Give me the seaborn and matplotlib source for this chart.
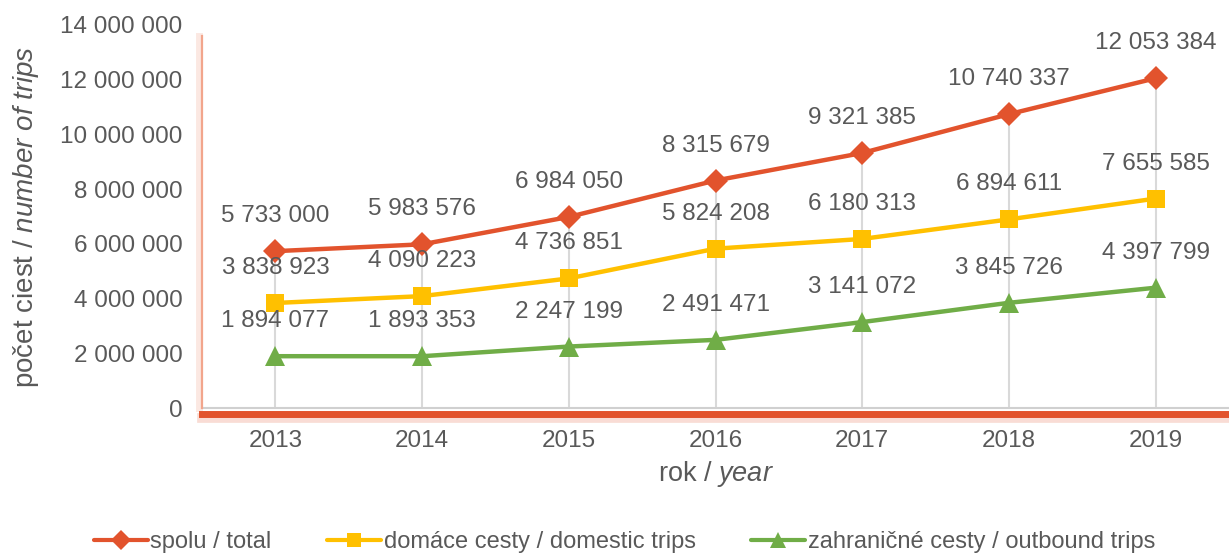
"""
plot.py

Number of trips per year: total, domestic and outbound.
"""

import pandas as pd
import seaborn as sns
import matplotlib.pyplot as plt
import matplotlib.patheffects as pe

years = ["2013", "2014", "2015", "2016", "2017", "2018", "2019"]
total = [5733000, 5983576, 6984050, 8315679, 9321385, 10740337, 12053384]
domestic = [3838923, 4090223, 4736851, 5824208, 6180313, 6894611, 7655585]
outbound = [1894077, 1893353, 2247199, 2491471, 3141072, 3845726, 4397799]

series_names = ["spolu / total", "domáce cesty / domestic trips", "zahraničné cesty / outbound trips"]

df = pd.DataFrame({"rok": years, series_names[0]: total,
                   series_names[1]: domestic, series_names[2]: outbound})
long = df.melt(id_vars="rok", var_name="serie", value_name="cesty")

sns.set_style("white")
plt.rcParams["font.family"] = ["Liberation Sans", "DejaVu Sans"]
plt.rcParams["mathtext.fontset"] = "custom"
plt.rcParams["mathtext.it"] = "Liberation Sans:italic"
plt.rcParams["mathtext.rm"] = "Liberation Sans"

TXT = "#595959"
colors = ["#E2532D", "#FFC000", "#70AD47"]
markers = ["D", "s", "^"]
msizes = [12.5, 13, 15]

fig = plt.figure(figsize=(12.29, 5.54), dpi=100)
ax = fig.add_axes([0.1644, 0.2635, 0.8356, 0.6914])

# drop lines from the highest point down to the axis
ax.vlines(range(len(years)), 0, total, color="#D9D9D9", lw=1.5, zorder=1)

sns.lineplot(data=long, x="rok", y="cesty", hue="serie", style="serie",
             palette=colors, markers=markers, dashes=False, lw=3.2,
             markersize=12, markeredgewidth=0, ax=ax, legend=False, zorder=3)
for line, ms in zip(ax.lines, msizes):
    line.set_markersize(ms)

# data labels above every point
for vals in [total, domestic, outbound]:
    for i, v in enumerate(vals):
        ax.annotate(f"{v:,}".replace(",", " "), (i, v), xytext=(0, 35),
                    textcoords="offset pixels", ha="center", va="center",
                    fontsize=17.5, color=TXT)

ax.set_xlim(-0.5, 6.5)
ax.set_ylim(0, 14000000)
ax.set_yticks(range(0, 14000001, 2000000))
ax.set_yticklabels([f"{t:,}".replace(",", " ") for t in range(0, 14000001, 2000000)])
ax.tick_params(axis="both", length=0, labelsize=17.5, labelcolor=TXT)
ax.tick_params(axis="y", pad=14)
ax.tick_params(axis="x", pad=12)

for s in ["top", "right"]:
    ax.spines[s].set_visible(False)
ax.spines["left"].set_color("#F2A58C")
ax.spines["left"].set_linewidth(1.6)
ax.spines["left"].set_bounds(0, 13600000)
ax.spines["left"].set_path_effects([pe.SimpleLineShadow(offset=(-2, 0), shadow_color="#F2A58C", alpha=0.25, linewidth=5), pe.Normal()])
ax.spines["bottom"].set_color("#E2532D")
ax.spines["bottom"].set_linewidth(5)
ax.spines["bottom"].set_position(("outward", 4))
ax.spines["bottom"].set_path_effects([pe.SimpleLineShadow(offset=(0, -3), shadow_color="#E2532D", alpha=0.2, linewidth=7), pe.Normal()])
ax.axhline(0, color="#D0D0D0", lw=1.5, zorder=2, clip_on=False)

ax.set_xlabel(r"rok / $\mathit{year}$", fontsize=19.5, color=TXT, labelpad=5)
ax.set_ylabel(r"počet ciest / $\mathit{number\ of\ trips}$", fontsize=20, color=TXT, labelpad=14)

handles = [plt.Line2D([], [], color=c, marker=m, lw=3, markersize=ms * 0.8, markeredgewidth=0)
           for c, m, ms in zip(colors, markers, msizes)]
fig.legend(handles, series_names, loc="center", bbox_to_anchor=(0.508, 0.022), ncol=3,
           frameon=False, fontsize=17, labelcolor=TXT, handlelength=2.3,
           handletextpad=0.1, columnspacing=2.35)

fig.savefig("out.png", dpi=100)
